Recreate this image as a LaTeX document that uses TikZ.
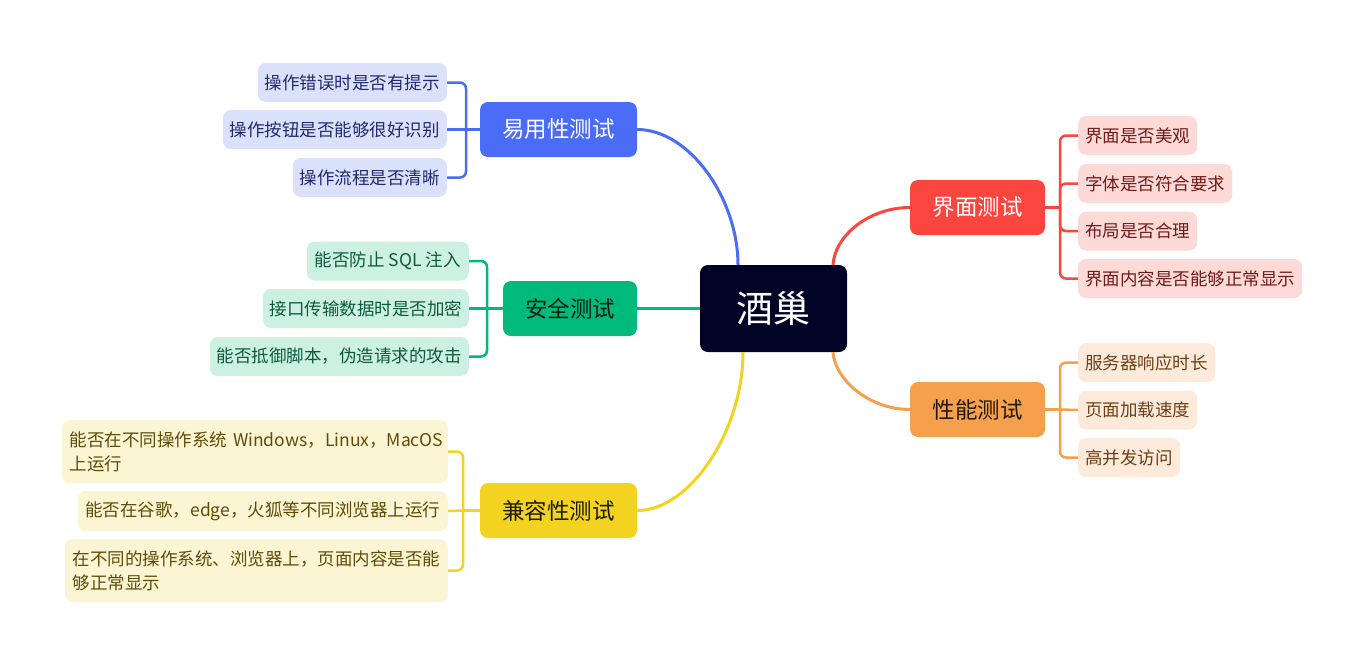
\documentclass[tikz,border=0pt]{standalone}
\usepackage{fontspec}
\setmainfont{Noto Sans CJK SC}
\definecolor{cRoot}{HTML}{000326}
\definecolor{cA}{HTML}{4A6CF7}\definecolor{lA}{HTML}{DCE1FB}\definecolor{tA}{HTML}{1F2B6E}
\definecolor{cB}{HTML}{00B97A}\definecolor{lB}{HTML}{CCF0E2}\definecolor{tB}{HTML}{0E5A3E}
\definecolor{cC}{HTML}{F2D321}\definecolor{lC}{HTML}{FCF5D3}\definecolor{tC}{HTML}{5E4C08}
\definecolor{cD}{HTML}{FA463F}\definecolor{lD}{HTML}{FDDAD8}\definecolor{tD}{HTML}{6E1C18}
\definecolor{cE}{HTML}{F5A04C}\definecolor{lE}{HTML}{FDEADA}\definecolor{tE}{HTML}{6B4119}
\begin{document}
\begin{tikzpicture}[x=1pt,y=-1pt,
  rootbox/.style={fill=cRoot, text=white, rounded corners=8pt, inner sep=0pt,
    minimum width=147pt, minimum height=87pt, font=\fontsize{37}{40}\selectfont},
  branchbox/.style={rounded corners=8pt, inner sep=0pt, minimum height=55pt,
    font=\fontsize{22.5}{26}\selectfont},
  leafbox/.style={rounded corners=8pt, inner sep=0pt, minimum height=39pt,
    font=\fontsize{17.5}{24}\selectfont},
  mainline/.style={line width=3pt},
  brline/.style={line width=2.5pt, rounded corners=6pt}]
\useasboundingbox (0,0) rectangle (1365,665);

% root
\node[rootbox] (O) at (773.5,308.5) {酒巢};

% branches
\node[branchbox, fill=cA, text=white, minimum width=157pt] (A) at (558.5,129.5) {易用性测试};
\node[branchbox, fill=cB, text=black!85!cB, minimum width=134pt] (B) at (570,308.5) {安全测试};
\node[branchbox, fill=cC, text=black!88!cC, minimum width=157pt] (C) at (558.5,510.5) {兼容性测试};
\node[branchbox, fill=cD, text=white, minimum width=135pt] (D) at (977.5,207.5) {界面测试};
\node[branchbox, fill=cE, text=black!85!cE, minimum width=135pt] (E) at (977.5,409.5) {性能测试};

% main connectors
\draw[mainline, cA] (A.east) .. controls +(53,0) and +(0,-65) .. ([xshift=-35.5pt]O.north);
\draw[mainline, cB] (B.east) -- (O.west);
\draw[mainline, cC] ([xshift=-30.5pt]O.south) .. controls +(0,78) and +(53,0) .. (C.east);
\draw[mainline, cD] (D.west) .. controls +(-40,0) and +(2,-30) .. ([xshift=59.5pt]O.north);
\draw[mainline, cE] ([xshift=59.5pt]O.south) .. controls +(2,28) and +(-40,0) .. (E.west);

% leaves A
\node[leafbox, fill=lA, text=tA, minimum width=189pt, anchor=east] (A1) at (447,82.5) {操作错误时是否有提示};
\node[leafbox, fill=lA, text=tA, minimum width=224pt, anchor=east] (A2) at (447,129.5) {操作按钮是否能够很好识别};
\node[leafbox, fill=lA, text=tA, minimum width=154pt, anchor=east] (A3) at (447,177.5) {操作流程是否清晰};
\coordinate (Aj) at (466,129.5);
\draw[brline, cA] (A.west) -- (Aj);
\draw[brline, cA] (Aj) |- (A1.east);
\draw[brline, cA] (Aj) -- (A2.east);
\draw[brline, cA] (Aj) |- (A3.east);

% leaves B
\node[leafbox, fill=lB, text=tB, minimum width=162pt, anchor=east] (B1) at (469,261) {能否防止 SQL 注入};
\node[leafbox, fill=lB, text=tB, minimum width=206pt, anchor=east] (B2) at (469,308.5) {接口传输数据时是否加密};
\node[leafbox, fill=lB, text=tB, minimum width=259pt, anchor=east] (B3) at (469,356.5) {能否抵御脚本，伪造请求的攻击};
\coordinate (Bj) at (487,308.5);
\draw[brline, cB] (B.west) -- (Bj);
\draw[brline, cB] (Bj) |- (B1.east);
\draw[brline, cB] (Bj) -- (B2.east);
\draw[brline, cB] (Bj) |- (B3.east);

% leaves C
\node[leafbox, fill=lC, text=tC, minimum width=386pt, minimum height=63pt, text width=370pt, align=left, anchor=east] (C1) at (448,451.5) {\mbox{能否在不同操作系统 Windows，Linux，MacOS}\\上运行};
\node[leafbox, fill=lC, text=tC, minimum width=370pt, minimum height=40pt, anchor=east] (C2) at (448,511) {能否在谷歌，edge，火狐等不同浏览器上运行};
\node[leafbox, fill=lC, text=tC, minimum width=383pt, minimum height=63pt, text width=367pt, align=left, anchor=east] (C3) at (448,570.5) {\mbox{在不同的操作系统、浏览器上，页面内容是否能}\\够正常显示};
\coordinate (Cj) at (463,510.5);
\draw[brline, cC] (C.west) -- (Cj);
\draw[brline, cC] (Cj) |- (C1.east);
\draw[brline, cC] (Cj) -- (C2.east);
\draw[brline, cC] (Cj) |- (C3.east);

% leaves D
\node[leafbox, fill=lD, text=tD, minimum width=119pt, anchor=west] (D1) at (1078,135.5) {界面是否美观};
\node[leafbox, fill=lD, text=tD, minimum width=154pt, anchor=west] (D2) at (1078,183.5) {字体是否符合要求};
\node[leafbox, fill=lD, text=tD, minimum width=119pt, anchor=west] (D3) at (1078,231) {布局是否合理};
\node[leafbox, fill=lD, text=tD, minimum width=224pt, anchor=west] (D4) at (1078,278.5) {界面内容是否能够正常显示};
\coordinate (Dj) at (1060,207.5);
\draw[brline, cD] (D.east) -- (Dj);
\draw[brline, cD] (Dj) |- (D1.west);
\draw[brline, cD] (Dj) |- (D2.west);
\draw[brline, cD] (Dj) |- (D3.west);
\draw[brline, cD] (Dj) |- (D4.west);

% leaves E
\node[leafbox, fill=lE, text=tE, minimum width=137pt, anchor=west] (E1) at (1078,362.5) {服务器响应时长};
\node[leafbox, fill=lE, text=tE, minimum width=119pt, anchor=west] (E2) at (1078,410) {页面加载速度};
\node[leafbox, fill=lE, text=tE, minimum width=102pt, anchor=west] (E3) at (1078,457.5) {高并发访问};
\coordinate (Ej) at (1060,409.5);
\draw[brline, cE] (E.east) -- (Ej);
\draw[brline, cE] (Ej) |- (E1.west);
\draw[brline, cE] (Ej) -- (E2.west);
\draw[brline, cE] (Ej) |- (E3.west);
\end{tikzpicture}
\end{document}
